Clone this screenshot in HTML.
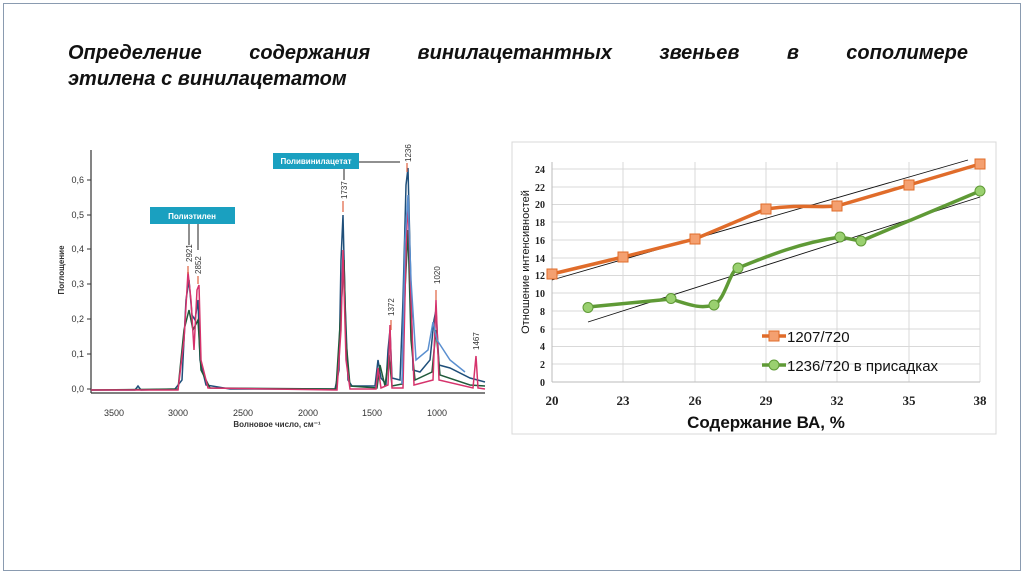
<!DOCTYPE html>
<html><head><meta charset="utf-8"><style>
body{margin:0;width:1024px;height:574px;background:#fff;overflow:hidden;font-family:"Liberation Sans",sans-serif}
.frame{position:absolute;left:3px;top:3px;width:1016px;height:566px;border:1px solid #8a9bb0}
.title{position:absolute;left:68px;top:40px;width:900px;font:bold italic 20px "Liberation Sans",sans-serif;line-height:26px;text-align:justify;text-align-last:left;color:#111}
</style></head><body>
<div class="frame"></div>
<div class="title" style="text-align-last:justify;height:26px;overflow:hidden">Определение содержания винилацетантных звеньев в сополимере</div>
<div class="title" style="top:66px">этилена с винилацетатом</div>
<svg width="1024" height="574" style="position:absolute;left:0;top:0" font-family="Liberation Sans, sans-serif">
<!-- left spectrum -->
<g stroke="#333" stroke-width="1.2" fill="none">
<line x1="91" y1="150" x2="91" y2="393"/><line x1="91" y1="393" x2="485" y2="393"/>
</g>
<g font-size="9" fill="#333" text-anchor="end">
<text x="84" y="392">0,0</text><text x="84" y="357">0,1</text><text x="84" y="322">0,2</text><text x="84" y="287">0,3</text><text x="84" y="252">0,4</text><text x="84" y="218">0,5</text><text x="84" y="183">0,6</text>
</g>
<g stroke="#333"><line x1="87" y1="389" x2="91" y2="389"/><line x1="87" y1="354" x2="91" y2="354"/><line x1="87" y1="319" x2="91" y2="319"/><line x1="87" y1="284" x2="91" y2="284"/><line x1="87" y1="249" x2="91" y2="249"/><line x1="87" y1="215" x2="91" y2="215"/><line x1="87" y1="180" x2="91" y2="180"/></g>
<g font-size="9" fill="#333" text-anchor="middle">
<text x="114" y="416">3500</text><text x="178" y="416">3000</text><text x="243" y="416">2500</text><text x="308" y="416">2000</text><text x="372" y="416">1500</text><text x="437" y="416">1000</text>
<text x="277" y="427" font-weight="bold" font-size="8">Волновое число, см⁻¹</text>
</g>
<text transform="translate(64,270) rotate(-90)" font-size="8" font-weight="bold" text-anchor="middle" fill="#333">Поглощение</text>
<rect x="150" y="207" width="85" height="17" fill="#1aa0c0"/><text x="192" y="219" font-size="8" font-weight="bold" fill="#fff" text-anchor="middle">Полиэтилен</text>
<rect x="273" y="153" width="86" height="16" fill="#1aa0c0"/><text x="316" y="164" font-size="8" font-weight="bold" fill="#fff" text-anchor="middle">Поливинилацетат</text>
<g stroke="#222" stroke-width="1"><line x1="189" y1="224" x2="189" y2="245"/><line x1="198" y1="224" x2="198" y2="250"/><line x1="344" y1="169" x2="344" y2="180"/><line x1="359" y1="162" x2="400" y2="162"/></g>
<g font-size="8" fill="#333"><text transform="translate(192,262) rotate(-90)">2921</text><text transform="translate(201,274) rotate(-90)">2852</text><text transform="translate(347,199) rotate(-90)">1737</text><text transform="translate(411,162) rotate(-90)">1236</text><text transform="translate(394,316) rotate(-90)">1372</text><text transform="translate(440,284) rotate(-90)">1020</text><text transform="translate(479,350) rotate(-90)">1467</text></g>
<g fill="none" stroke-width="1.5">
<path stroke="#1f4f7a" d="M91,390 L135,390 L138,386 L141,390 L175,389 L182,380 L186,300 L189,280 L192,315 L195,320 L198,300 L200,360 L206,385 L230,389 L335,389 L339,370 L341,260 L343,215 L345,300 L348,380 L352,386 L375,386 L378,360 L381,378 L386,384 L388,350 L390,330 L392,378 L400,380 L403,300 L406,185 L408,168 L410,250 L413,370 L420,372 L430,360 L434,320 L436,310 L439,365 L450,368 L470,378 L485,382"/>
<path stroke="#1f5a3a" d="M91,390 L178,389 L184,330 L189,310 L193,330 L198,320 L201,370 L210,388 L336,389 L341,310 L344,260 L346,340 L350,386 L377,388 L380,365 L385,386 L389,355 L392,386 L402,384 L405,290 L408,230 L411,340 L415,380 L432,372 L436,330 L440,375 L470,385 L485,386"/>
<path stroke="#d6336c" d="M91,390 L178,390 L184,340 L188,272 L191,300 L194,350 L197,290 L199,285 L201,360 L208,388 L337,390 L341,330 L343,250 L346,360 L350,389 L376,389 L378,368 L381,388 L388,385 L390,325 L392,388 L403,388 L406,250 L408,200 L411,300 L414,385 L433,380 L436,300 L439,380 L473,388 L476,356 L478,388 L485,389"/>
<path stroke="#5a8fd0" d="M402,384 L405,240 L408,195 L411,280 L416,360 L428,350 L433,322 L437,340 L450,360 L465,372"/>
</g>
<g stroke="#e06040" stroke-width="1.2"><line x1="188" y1="266" x2="188" y2="274"/><line x1="198" y1="276" x2="198" y2="284"/><line x1="343" y1="201" x2="343" y2="212"/><line x1="407" y1="163" x2="407" y2="172"/><line x1="391" y1="320" x2="391" y2="330"/><line x1="436" y1="290" x2="436" y2="300"/></g>

<!-- right chart -->
<rect x="512" y="142" width="484" height="292" fill="#fff" stroke="#d8d8d8"/>
<g stroke="#d9d9d9" stroke-width="1">
<line x1="552" y1="169" x2="980" y2="169"/><line x1="552" y1="187" x2="980" y2="187"/><line x1="552" y1="204.5" x2="980" y2="204.5"/><line x1="552" y1="222" x2="980" y2="222"/><line x1="552" y1="240" x2="980" y2="240"/><line x1="552" y1="258" x2="980" y2="258"/><line x1="552" y1="275.5" x2="980" y2="275.5"/><line x1="552" y1="293" x2="980" y2="293"/><line x1="552" y1="311" x2="980" y2="311"/><line x1="552" y1="329" x2="980" y2="329"/><line x1="552" y1="346.5" x2="980" y2="346.5"/><line x1="552" y1="364" x2="980" y2="364"/>
<line x1="623" y1="162" x2="623" y2="382"/><line x1="695" y1="162" x2="695" y2="382"/><line x1="766" y1="162" x2="766" y2="382"/><line x1="837" y1="162" x2="837" y2="382"/><line x1="909" y1="162" x2="909" y2="382"/><line x1="980" y1="162" x2="980" y2="382"/>
</g>
<g stroke="#bbb"><line x1="552" y1="162" x2="552" y2="382"/><line x1="552" y1="382" x2="980" y2="382"/></g>
<g font-family="Liberation Serif, serif" font-weight="bold" font-size="10" fill="#222" text-anchor="end">
<text x="545" y="173">24</text><text x="545" y="191">22</text><text x="545" y="208">20</text><text x="545" y="226">18</text><text x="545" y="244">16</text><text x="545" y="262">14</text><text x="545" y="279">12</text><text x="545" y="297">10</text><text x="545" y="315">8</text><text x="545" y="333">6</text><text x="545" y="350">4</text><text x="545" y="368">2</text><text x="545" y="386">0</text>
</g>
<g font-family="Liberation Serif, serif" font-weight="bold" font-size="13" fill="#222" text-anchor="middle">
<text x="552" y="405">20</text><text x="623" y="405">23</text><text x="695" y="405">26</text><text x="766" y="405">29</text><text x="837" y="405">32</text><text x="909" y="405">35</text><text x="980" y="405">38</text>
</g>
<text x="766" y="428" font-size="17" font-weight="bold" text-anchor="middle" fill="#111">Содержание ВА, %</text>
<text transform="translate(529,262) rotate(-90)" font-size="11" text-anchor="middle" fill="#111">Отношение интенсивностей</text>
<line x1="552" y1="280" x2="968" y2="160" stroke="#111" stroke-width="0.9"/>
<line x1="588" y1="322" x2="980" y2="197" stroke="#111" stroke-width="0.9"/>
<path d="M552,274 L623,257 L695,239 L766,209 C800,204 820,208 837,206 L909,185 L980,164" fill="none" stroke="#e06c2a" stroke-width="3.5"/>
<path d="M588,307 L671,299 C690,305 700,309 714,305 C725,300 730,270 738,268 C770,255 800,243 840,237 L861,241 L980,191" fill="none" stroke="#5f9a36" stroke-width="3.5"/>
<g fill="#f4a070" stroke="#e06c2a" stroke-width="1"><rect x="547" y="269" width="10" height="10"/><rect x="618" y="252" width="10" height="10"/><rect x="690" y="234" width="10" height="10"/><rect x="761" y="204" width="10" height="10"/><rect x="832" y="201" width="10" height="10"/><rect x="904" y="180" width="10" height="10"/><rect x="975" y="159" width="10" height="10"/></g>
<g fill="#9ad070" stroke="#5f9a36" stroke-width="1"><circle cx="588" cy="307.5" r="5"/><circle cx="671" cy="298.5" r="5"/><circle cx="714" cy="305" r="5"/><circle cx="738" cy="268" r="5"/><circle cx="840" cy="237" r="5"/><circle cx="861" cy="241" r="5"/><circle cx="980" cy="191" r="5"/></g>
<line x1="762" y1="336" x2="786" y2="336" stroke="#e06c2a" stroke-width="3.5"/><rect x="769" y="331" width="10" height="10" fill="#f4a070" stroke="#e06c2a"/>
<text x="787" y="342" font-size="15" fill="#111">1207/720</text>
<line x1="762" y1="365" x2="786" y2="365" stroke="#5f9a36" stroke-width="3.5"/><circle cx="774" cy="365" r="5" fill="#9ad070" stroke="#5f9a36"/>
<text x="787" y="371" font-size="15" fill="#111">1236/720 в присадках</text>
</svg>
</body></html>
